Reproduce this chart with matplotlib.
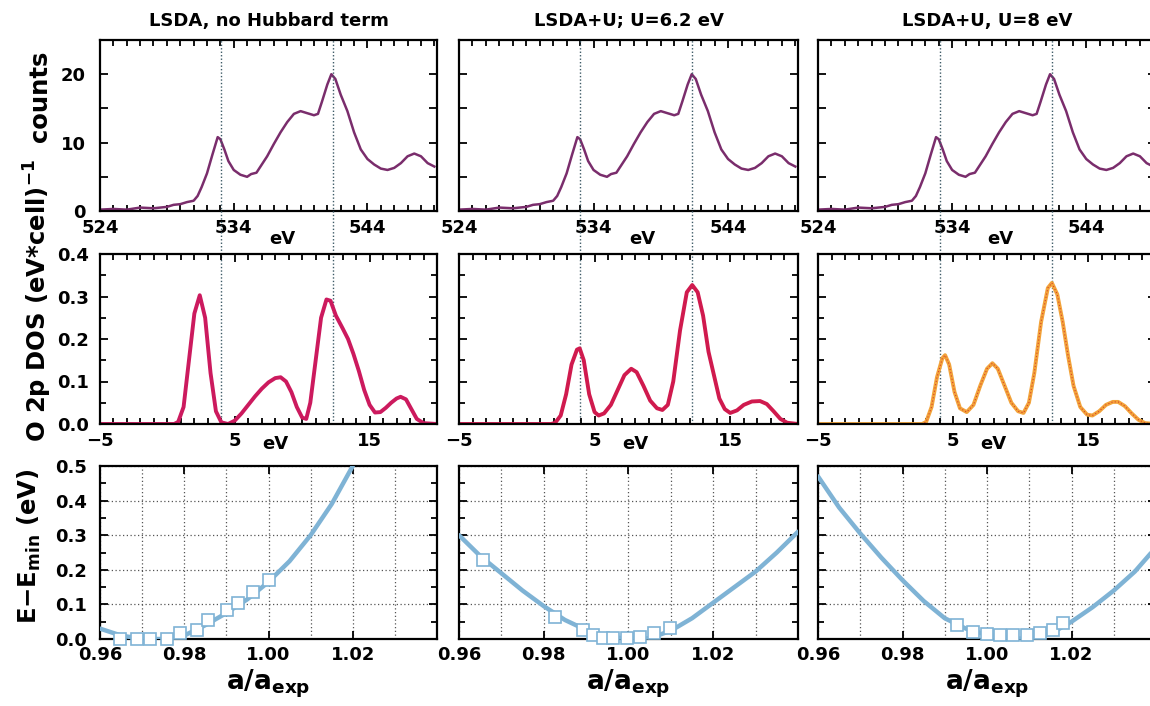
import matplotlib
matplotlib.use("Agg")
import matplotlib.pyplot as plt
from matplotlib.ticker import MultipleLocator, FixedLocator, FormatStrFormatter
from matplotlib.transforms import blended_transform_factory

plt.rcParams['font.family'] = ['DejaVu Sans']
plt.rcParams['font.weight'] = 'bold'
plt.rcParams['mathtext.fontset'] = 'dejavusans'
plt.rcParams['mathtext.default'] = 'bf'

# ---------------- data ----------------
titles = ["LSDA, no Hubbard term", "LSDA+U; U=6.2 eV", "LSDA+U, U=8 eV"]

# experimental O K-edge spectrum (eV, counts)
xas_e = [524.0, 525.0, 526.0, 527.0, 528.0, 529.0, 529.5, 530.0, 530.5, 531.0,
         531.3, 531.6, 532.0, 532.4, 532.8, 533.0, 533.3, 533.6, 534.0, 534.5,
         535.0, 535.3, 535.7, 536.0, 536.5, 537.0, 537.5, 538.0, 538.5, 539.0,
         539.5, 540.0, 540.3, 540.6, 541.0, 541.3, 541.6, 542.0, 542.5, 543.0,
         543.5, 544.0, 544.5, 545.0, 545.5, 546.0, 546.5, 547.0, 547.5, 548.0,
         548.5, 549.0]
xas_c = [0.2, 0.3, 0.2, 0.5, 0.4, 0.6, 0.9, 1.0, 1.3, 1.5,
         2.2, 3.5, 5.5, 8.2, 10.8, 10.5, 9.0, 7.3, 6.0, 5.3,
         5.0, 5.4, 5.6, 6.5, 8.0, 9.8, 11.5, 13.0, 14.2, 14.6,
         14.3, 14.0, 14.2, 16.0, 18.5, 20.0, 19.3, 17.0, 14.6, 11.5,
         9.0, 7.6, 6.8, 6.2, 6.0, 6.3, 7.0, 8.0, 8.4, 8.0,
         7.0, 6.5]

# O 2p DOS (eV, states)
dos1_e = [-5, 0.5, 0.8, 1.2, 1.6, 2.0, 2.4, 2.8, 3.2, 3.6, 4.0, 4.5, 5.0, 5.5,
          6.0, 6.5, 7.0, 7.5, 8.0, 8.4, 8.8, 9.2, 9.6, 10.0, 10.3, 10.6, 11.0,
          11.4, 11.8, 12.1, 12.5, 13.0, 13.4, 13.8, 14.2, 14.6, 15.0, 15.4,
          15.8, 16.2, 16.6, 17.0, 17.3, 17.7, 18.1, 18.5, 19.0, 20.0]
dos1_v = [0, 0, 0.005, 0.04, 0.15, 0.26, 0.303, 0.25, 0.12, 0.03, 0.004, 0.0,
          0.008, 0.025, 0.045, 0.065, 0.083, 0.098, 0.108, 0.11, 0.1, 0.075,
          0.04, 0.015, 0.012, 0.05, 0.15, 0.25, 0.293, 0.29, 0.255, 0.225, 0.2,
          0.165, 0.125, 0.08, 0.045, 0.027, 0.028, 0.038, 0.05, 0.06, 0.064,
          0.058, 0.035, 0.012, 0.002, 0]

dos2_e = [-5, 1.8, 2.1, 2.5, 2.9, 3.3, 3.7, 3.9, 4.2, 4.6, 5.0, 5.3, 5.7, 6.2,
          6.7, 7.2, 7.7, 8.1, 8.6, 9.1, 9.6, 10.0, 10.4, 10.8, 11.3, 11.8, 12.2,
          12.6, 13.0, 13.4, 13.8, 14.2, 14.6, 15.0, 15.5, 16.0, 16.6, 17.2,
          17.7, 18.2, 18.7, 19.2, 20.0]
dos2_v = [0, 0, 0.003, 0.02, 0.07, 0.14, 0.175, 0.178, 0.15, 0.07, 0.028, 0.02,
          0.025, 0.045, 0.08, 0.115, 0.13, 0.122, 0.09, 0.055, 0.037, 0.033,
          0.045, 0.10, 0.22, 0.31, 0.327, 0.31, 0.255, 0.17, 0.115, 0.06, 0.035,
          0.026, 0.032, 0.045, 0.053, 0.054, 0.047, 0.03, 0.012, 0.003, 0]

dos3_e = [-5, 2.7, 3.0, 3.4, 3.8, 4.2, 4.4, 4.7, 5.1, 5.5, 6.0, 6.5, 7.0, 7.5,
          7.9, 8.3, 8.8, 9.3, 9.8, 10.2, 10.6, 11.0, 11.5, 12.0, 12.3, 12.7,
          13.1, 13.5, 13.9, 14.4, 14.9, 15.3, 15.8, 16.3, 16.8, 17.2, 17.7,
          18.2, 18.7, 19.2, 20.0]
dos3_v = [0, 0, 0.005, 0.04, 0.11, 0.155, 0.162, 0.14, 0.075, 0.037, 0.028,
          0.045, 0.09, 0.13, 0.143, 0.13, 0.09, 0.05, 0.03, 0.026, 0.05, 0.12,
          0.24, 0.32, 0.332, 0.305, 0.24, 0.16, 0.09, 0.04, 0.022, 0.02, 0.03,
          0.045, 0.052, 0.052, 0.042, 0.025, 0.01, 0.002, 0]

# marker lines (DOS energy scale)
vlines = [[4.0, 12.3], [3.9, 12.2], [4.0, 12.3]]

# total energy vs lattice parameter
lat1_x = [0.960, 0.965, 0.970, 0.975, 0.980, 0.985, 0.990, 0.995, 1.000,
          1.005, 1.010, 1.015, 1.020]
lat1_y = [0.03, 0.01, 0.0, 0.0, 0.01, 0.04, 0.075, 0.115, 0.165, 0.225, 0.30,
          0.39, 0.50]
pts1_x = [0.9647, 0.9688, 0.9719, 0.9759, 0.9790, 0.9830, 0.9856, 0.9901,
          0.9928, 0.9963, 1.0000]
pts1_y = [0.0, 0.0, 0.0, 0.0, 0.017, 0.026, 0.055, 0.084, 0.104, 0.136, 0.17]

lat2_x = [0.960, 0.965, 0.970, 0.975, 0.980, 0.985, 0.990, 0.995, 1.000,
          1.005, 1.010, 1.015, 1.020, 1.025, 1.030, 1.035, 1.040]
lat2_y = [0.30, 0.24, 0.19, 0.14, 0.095, 0.055, 0.026, 0.008, 0.0, 0.002,
          0.024, 0.06, 0.105, 0.15, 0.195, 0.25, 0.31]
pts2_x = [0.9657, 0.9827, 0.9893, 0.9917, 0.9941, 0.9964, 0.9996, 1.0027,
          1.0059, 1.0098]
pts2_y = [0.228, 0.064, 0.026, 0.012, 0.003, 0.003, 0.003, 0.006, 0.017, 0.032]

lat3_x = [0.960, 0.965, 0.970, 0.975, 0.980, 0.985, 0.990, 0.995, 1.000,
          1.005, 1.010, 1.015, 1.020, 1.025, 1.030, 1.035, 1.040]
lat3_y = [0.47, 0.38, 0.305, 0.235, 0.17, 0.11, 0.06, 0.03, 0.012, 0.003, 0.0,
          0.015, 0.05, 0.092, 0.14, 0.195, 0.265]
pts3_x = [0.9928, 0.9967, 0.9999, 1.0031, 1.0062, 1.0094, 1.0125, 1.0157,
          1.0181]
pts3_y = [0.04, 0.02, 0.014, 0.012, 0.012, 0.013, 0.017, 0.026, 0.046]

xas_ticks = [524, 534, 544]
dos_ticks = [-5, 5, 15]
lat_ticks = [0.96, 0.98, 1.00, 1.02]

dos_sets = [(dos1_e, dos1_v), (dos2_e, dos2_v), (dos3_e, dos3_v)]
lat_sets = [(lat1_x, lat1_y, pts1_x, pts1_y), (lat2_x, lat2_y, pts2_x, pts2_y),
            (lat3_x, lat3_y, pts3_x, pts3_y)]
dos_colors = ['#cc1a5e', '#d01a4e', '#f2a33a']

# ---------------- layout ----------------
W, H = 1150, 706
fig = plt.figure(figsize=(W / 100, H / 100), dpi=100)
col_left = [100, 459, 818]
col_w = [337, 339, 338]
rows = [(40, 211), (254, 424), (466, 639)]

def rect(c, r):
    t, b = rows[r]
    return [col_left[c] / W, (H - b) / H, col_w[c] / W, (b - t) / H]

TICK = 13
line_xas = '#7a2d6c'
blue = '#7fb3d5'
vcol = '#3d5a66'

def style(ax):
    for s in ax.spines.values():
        s.set_linewidth(1.6)
    ax.tick_params(which='both', direction='in', top=True, right=True,
                   labelsize=TICK, width=1.3)
    ax.tick_params(which='major', length=6)
    ax.tick_params(which='minor', length=4)
    for lab in ax.get_xticklabels() + ax.get_yticklabels():
        lab.set_fontweight('bold')

for c in range(3):
    # ---- top: experimental spectrum ----
    ax1 = fig.add_axes(rect(c, 0))
    ax1.plot(xas_e, xas_c, color=line_xas, lw=1.8)
    ax1.set_xlim(524, 549.2)
    ax1.set_ylim(0, 25)
    ax1.xaxis.set_major_locator(FixedLocator(xas_ticks))
    ax1.xaxis.set_minor_locator(MultipleLocator(1))
    ax1.yaxis.set_major_locator(MultipleLocator(10))
    ax1.yaxis.set_minor_locator(MultipleLocator(5))
    style(ax1)
    ax1.tick_params(axis='y', which='minor', length=6)
    ax1.tick_params(axis='x', pad=6)
    ax1.tick_params(axis='y', pad=10)
    ax1.set_title(titles[c], fontsize=13, fontweight='bold', pad=10)
    if c > 0:
        ax1.set_yticklabels([])
    tr = blended_transform_factory(ax1.transData, ax1.transAxes)
    ax1.text(537.6, -0.165, "eV", transform=tr, ha='center', va='center',
             fontsize=TICK, fontweight='bold')

    # ---- middle: DOS ----
    ax2 = fig.add_axes(rect(c, 1))
    e, v = dos_sets[c]
    ax2.plot(e, v, color=dos_colors[c], lw=2.8, solid_capstyle='round')
    if c == 2:
        ax2.plot(e, v, color='#d8402a', lw=0.8, ls=(0, (1, 2)))
    ax2.set_xlim(-5, 20)
    ax2.set_ylim(0, 0.4)
    ax2.xaxis.set_major_locator(FixedLocator(dos_ticks))
    ax2.xaxis.set_minor_locator(MultipleLocator(1))
    ax2.yaxis.set_major_locator(MultipleLocator(0.1))
    ax2.yaxis.set_minor_locator(MultipleLocator(0.05))
    ax2.yaxis.set_major_formatter(FormatStrFormatter('%.1f'))
    style(ax2)
    ax2.tick_params(axis='x', pad=6)
    ax2.tick_params(axis='y', pad=8)
    if c > 0:
        ax2.set_yticklabels([])
    tr2 = blended_transform_factory(ax2.transData, ax2.transAxes)
    ax2.text(8.0, -0.115, "eV", transform=tr2, ha='center', va='center',
             fontsize=TICK, fontweight='bold')

    # vertical dotted guide lines spanning top and middle panels
    p1 = ax1.get_position()
    p2 = ax2.get_position()
    ymax = (p1.y1 - p2.y0) / p2.height
    for xv in vlines[c]:
        ax2.axvline(xv, ymin=0, ymax=ymax, clip_on=False, color=vcol,
                    lw=1.0, ls=(0, (1, 1.5)), zorder=0)

    # ---- bottom: energy vs lattice parameter ----
    ax3 = fig.add_axes(rect(c, 2))
    lx, ly, px, py = lat_sets[c]
    ax3.plot(lx, ly, color=blue, lw=3.2, zorder=3, solid_capstyle='round')
    ax3.plot(px, py, ls='none', marker='s', ms=8.5, mfc='white', mec=blue,
             mew=1.2, zorder=4, clip_on=False)
    ax3.set_xlim(0.96, 1.04)
    ax3.set_ylim(0, 0.5)
    ax3.xaxis.set_major_locator(FixedLocator(lat_ticks))
    ax3.xaxis.set_minor_locator(MultipleLocator(0.01))
    ax3.yaxis.set_major_locator(MultipleLocator(0.1))
    ax3.yaxis.set_minor_locator(MultipleLocator(0.05))
    ax3.xaxis.set_major_formatter(FormatStrFormatter('%.2f'))
    ax3.yaxis.set_major_formatter(FormatStrFormatter('%.1f'))
    style(ax3)
    ax3.tick_params(axis='x', which='minor', length=0)
    ax3.tick_params(axis='x', pad=5)
    ax3.tick_params(axis='y', pad=9)
    ax3.xaxis.grid(True, which='both', color='#555555', lw=0.9,
                   ls=(0, (1, 2)))
    ax3.yaxis.grid(True, which='major', color='#555555', lw=0.9,
                   ls=(0, (1, 2)))
    ax3.set_axisbelow(True)
    if c > 0:
        ax3.set_yticklabels([])
    ax3.set_xlabel("a/a$_{exp}$", fontsize=19, fontweight='bold', labelpad=3)

# y-axis labels
fig.text(47 / W, (H - 96) / H, "counts", rotation=90, rotation_mode='anchor',
         ha='center', va='baseline', fontsize=17.5, fontweight='bold')
fig.text(47 / W, (H - 301) / H, "O 2p DOS (eV*cell)$^{-1}$", rotation=90,
         rotation_mode='anchor', ha='center', va='baseline', fontsize=17.5,
         fontweight='bold')
fig.text(37 / W, (H - 546) / H, "E\u2212E$_{min}$ (eV)", rotation=90,
         rotation_mode='anchor', ha='center', va='baseline', fontsize=17.5,
         fontweight='bold')

fig.savefig("out.png", dpi=100)
